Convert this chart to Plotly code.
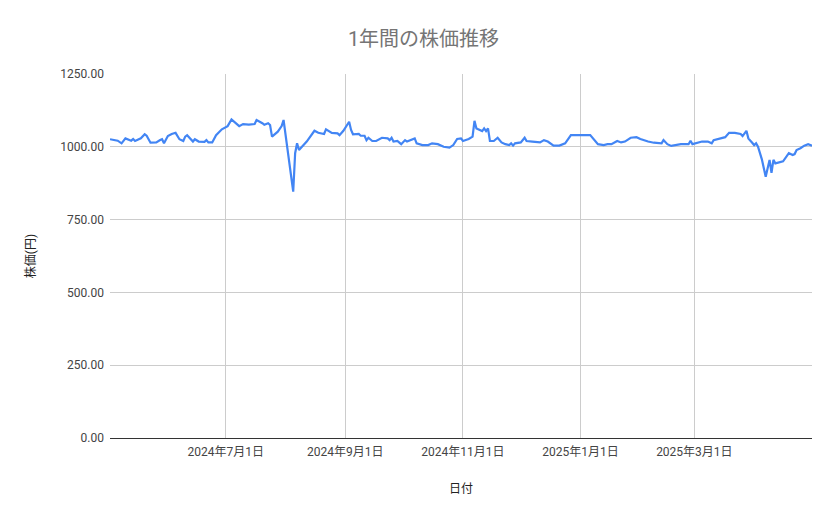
import plotly.graph_objects as go

dates = [
    "2024-05-02", "2024-05-06", "2024-05-08", "2024-05-10", "2024-05-13", "2024-05-14",
    "2024-05-15", "2024-05-18", "2024-05-20", "2024-05-21", "2024-05-23", "2024-05-26",
    "2024-05-28", "2024-05-29", "2024-05-30", "2024-06-01", "2024-06-03", "2024-06-05",
    "2024-06-07", "2024-06-09", "2024-06-10", "2024-06-11", "2024-06-14", "2024-06-15",
    "2024-06-17", "2024-06-20", "2024-06-21", "2024-06-22", "2024-06-24", "2024-06-26",
    "2024-06-29", "2024-07-02", "2024-07-04", "2024-07-08", "2024-07-10", "2024-07-13",
    "2024-07-16", "2024-07-17", "2024-07-20", "2024-07-21", "2024-07-23", "2024-07-24",
    "2024-07-25", "2024-07-28", "2024-07-30", "2024-07-31", "2024-08-05", "2024-08-06",
    "2024-08-07", "2024-08-08", "2024-08-12", "2024-08-16", "2024-08-18", "2024-08-21",
    "2024-08-22", "2024-08-25", "2024-08-28", "2024-08-29", "2024-08-31", "2024-09-03",
    "2024-09-04", "2024-09-05", "2024-09-08", "2024-09-09", "2024-09-11", "2024-09-12",
    "2024-09-13", "2024-09-15", "2024-09-17", "2024-09-20", "2024-09-23", "2024-09-24",
    "2024-09-25", "2024-09-26", "2024-09-28", "2024-09-30", "2024-10-02", "2024-10-03",
    "2024-10-07", "2024-10-08", "2024-10-11", "2024-10-14", "2024-10-16", "2024-10-19",
    "2024-10-22", "2024-10-25", "2024-10-27", "2024-10-29", "2024-10-31", "2024-11-01",
    "2024-11-04", "2024-11-06", "2024-11-07", "2024-11-08", "2024-11-11", "2024-11-12",
    "2024-11-13", "2024-11-14", "2024-11-15", "2024-11-17", "2024-11-19", "2024-11-21",
    "2024-11-23", "2024-11-25", "2024-11-26", "2024-11-27", "2024-11-28", "2024-12-01",
    "2024-12-03", "2024-12-04", "2024-12-07", "2024-12-11", "2024-12-13", "2024-12-15",
    "2024-12-18", "2024-12-21", "2024-12-24", "2024-12-27", "2025-01-06", "2025-01-09",
    "2025-01-10", "2025-01-13", "2025-01-15", "2025-01-17", "2025-01-20", "2025-01-22",
    "2025-01-24", "2025-01-27", "2025-01-30", "2025-02-01", "2025-02-05", "2025-02-08",
    "2025-02-12", "2025-02-13", "2025-02-15", "2025-02-17", "2025-02-20", "2025-02-22",
    "2025-02-26", "2025-02-27", "2025-02-28", "2025-03-03", "2025-03-05", "2025-03-08",
    "2025-03-10", "2025-03-11", "2025-03-15", "2025-03-17", "2025-03-19", "2025-03-22",
    "2025-03-25", "2025-03-26", "2025-03-28", "2025-03-29", "2025-03-31", "2025-04-01",
    "2025-04-02", "2025-04-03", "2025-04-05", "2025-04-07", "2025-04-08", "2025-04-09",
    "2025-04-10", "2025-04-11", "2025-04-12", "2025-04-14", "2025-04-16", "2025-04-19",
    "2025-04-21", "2025-04-22", "2025-04-23", "2025-04-25", "2025-04-27", "2025-04-29",
    "2025-05-01",
]

prices = [
    1026, 1021, 1012, 1029, 1021, 1027,
    1020, 1029, 1043, 1038, 1014, 1015,
    1023, 1026, 1012, 1037, 1044, 1048,
    1026, 1020, 1035, 1040, 1018, 1026,
    1018, 1017, 1023, 1015, 1015, 1040,
    1060, 1071, 1094, 1071, 1078, 1076,
    1078, 1092, 1081, 1076, 1081, 1075,
    1035, 1052, 1071, 1092, 846, 978,
    1012, 989, 1018, 1055, 1048, 1044,
    1060, 1048, 1046, 1040, 1055, 1086,
    1058, 1043, 1044, 1038, 1038, 1023,
    1031, 1020, 1020, 1031, 1029, 1023,
    1031, 1018, 1020, 1009, 1023, 1018,
    1029, 1012, 1006, 1006, 1012, 1009,
    1000, 997, 1006, 1027, 1029, 1020,
    1027, 1035, 1089, 1063, 1054, 1063,
    1054, 1063, 1020, 1020, 1031, 1015,
    1009, 1006, 1012, 1004, 1012, 1015,
    1031, 1020, 1018, 1015, 1023, 1018,
    1004, 1004, 1012, 1040, 1040, 1018,
    1009, 1006, 1009, 1009, 1020, 1015,
    1018, 1031, 1033, 1027, 1018, 1014,
    1012, 1023, 1009, 1003, 1006, 1009,
    1009, 1021, 1009, 1014, 1018, 1018,
    1012, 1023, 1029, 1033, 1048, 1048,
    1044, 1037, 1055, 1029, 1014, 1006,
    1012, 1000, 957, 897, 926, 955,
    911, 955, 943, 947, 950, 978,
    972, 975, 989, 995, 1004, 1009,
    1004,
]

x_tick_vals = ["2024-07-01", "2024-09-01", "2024-11-01", "2025-01-01", "2025-03-01", "2025-05-01"]
x_tick_text = ["2024年7月1日", "2024年9月1日", "2024年11月1日", "2025年1月1日", "2025年3月1日", ""]
y_tick_vals = [0, 250, 500, 750, 1000, 1250]

font_family = "Roboto, 'Noto Sans CJK JP', sans-serif"

fig = go.Figure()
fig.add_trace(go.Scatter(
    x=dates, y=prices, mode="lines",
    line=dict(color="#4285F4", width=2.2),
    showlegend=False,
))

fig.update_layout(
    width=831, height=511,
    margin=dict(l=102, r=27, t=66, b=81),
    paper_bgcolor="white", plot_bgcolor="white",
    font=dict(family=font_family, color="#444444", size=12),
    title=dict(text="1年間の株価推移", x=0.5, xanchor="center", y=0.94, yanchor="middle",
               font=dict(size=20, color="#757575", family=font_family)),
    xaxis=dict(
        range=["2024-05-02", "2025-05-01"],
        tickvals=x_tick_vals, ticktext=x_tick_text,
        showgrid=True, gridcolor="#cccccc", gridwidth=1,
        showline=False, zeroline=False, ticks="",
        ticklabelstandoff=5,
        tickfont=dict(size=12, color="#444444"),
        title=dict(text="日付", font=dict(size=12, color="#222222"), standoff=26),
    ),
    yaxis=dict(
        range=[0, 1250],
        tickvals=y_tick_vals, tickformat=".2f",
        showgrid=True, gridcolor="#cccccc", gridwidth=1,
        zeroline=True, zerolinecolor="#333333", zerolinewidth=1,
        showline=False, ticks="",
        ticklabelstandoff=5,
        tickfont=dict(size=12, color="#444444"),
        title=dict(text="株価(円)", font=dict(size=12, color="#222222"), standoff=22),
    ),
)

fig.write_html("out.html")
